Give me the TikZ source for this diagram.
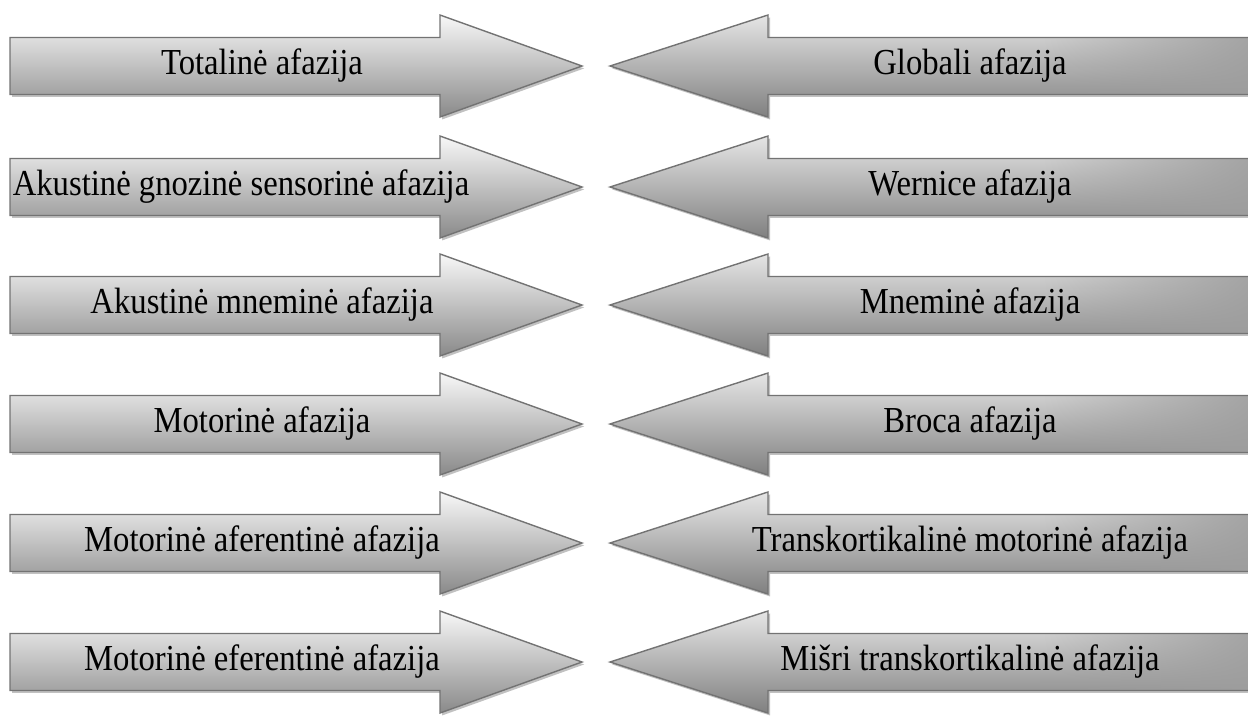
\documentclass[tikz,border=0pt]{standalone}
\usepackage{fontspec}
\setmainfont{Liberation Serif}
\usetikzlibrary{shadows,fadings}

\begin{document}
\begin{tikzpicture}[x=0.02cm, y=-0.02cm,
    arrowfill/.style={drop shadow={shadow xshift=1.2pt, shadow yshift=-1.4pt, opacity=0.35, fill=black!70}},
    lightarrow/.style={arrowfill, top color=black!3, middle color=black!11, bottom color=black!46},
    darkarrow/.style={arrowfill, top color=black!10, middle color=black!16, bottom color=black!50},
    rim/.style={draw=black!55, line width=0.8pt, line join=miter},
    txt/.style={font=\fontsize{18.6}{21}\selectfont, inner sep=0pt}]
  \useasboundingbox (0,0) rectangle (1248,724);

  \foreach \c/\lx/\ltext/\rtext [count=\i] in {
      66/262/Totalinė afazija/Globali afazija,
      187/241/Akustinė gnozinė sensorinė afazija/Wernice afazija,
      305/262/Akustinė mneminė afazija/Mneminė afazija,
      424/262/Motorinė afazija/Broca afazija,
      543/262/Motorinė aferentinė afazija/Transkortikalinė motorinė afazija,
      662/262/Motorinė eferentinė afazija/Mišri transkortikalinė afazija}
  {
    % left arrow, pointing right
    \path[lightarrow] (10,\c-28.5) -- (440,\c-28.5) -- (440,\c-51) -- (582,\c)
      -- (440,\c+51) -- (440,\c+28.5) -- (10,\c+28.5) -- cycle;
    \draw[rim] (10,\c-28.5) -- (440,\c-28.5) -- (440,\c-51) -- (582,\c)
      -- (440,\c+51) -- (440,\c+28.5) -- (10,\c+28.5) -- cycle;
    % right arrow, pointing left
    \path[darkarrow] (1260,\c-28.5) -- (768,\c-28.5) -- (768,\c-51) -- (610,\c)
      -- (768,\c+51) -- (768,\c+28.5) -- (1260,\c+28.5) -- cycle;
    \fill[black!38, path fading=west] (1040,\c-28.5) rectangle (1280,\c+28.5);
    \draw[rim] (1260,\c-28.5) -- (768,\c-28.5) -- (768,\c-51) -- (610,\c)
      -- (768,\c+51) -- (768,\c+28.5) -- (1260,\c+28.5);

    \node[txt] (l\i) at (\lx,\c) {\scalebox{1}[1.12]{\ltext}};
    \node[txt] (r\i) at (970,\c) {\scalebox{1}[1.12]{\rtext}};
  }
\end{tikzpicture}
\end{document}
